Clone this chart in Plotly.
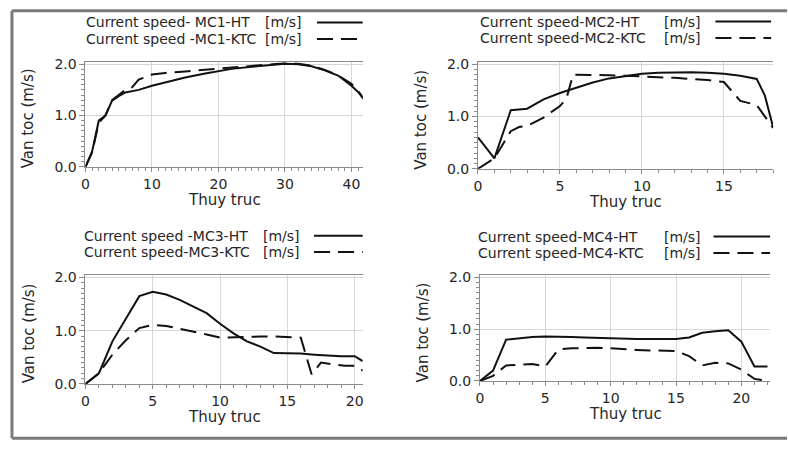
import plotly.graph_objects as go

# ---------------- data ----------------
mc1_x = [0, 1, 2, 3, 4, 5, 6, 7, 8, 10, 12, 15, 18, 20, 22, 25, 28, 30, 32, 34, 36, 38, 40, 41, 42]
mc1_ht = [0, 0.3, 0.9, 1.0, 1.29, 1.38, 1.45, 1.48, 1.5, 1.58, 1.65, 1.74, 1.82, 1.87, 1.91, 1.95, 1.99, 2.01, 2.0, 1.96, 1.88, 1.78, 1.58, 1.46, 1.3]
mc1_ktc = [0, 0.28, 0.86, 1.0, 1.3, 1.4, 1.5, 1.55, 1.7, 1.8, 1.83, 1.86, 1.89, 1.91, 1.93, 1.96, 1.99, 2.02, 2.01, 1.97, 1.89, 1.78, 1.62, 1.48, 1.3]

mc2_x = [0, 1, 2, 3, 4, 5, 6, 7, 8, 9, 10, 11, 12, 13, 14, 15, 16, 17, 17.5, 18]
mc2_ht = [0.6, 0.2, 1.12, 1.15, 1.33, 1.45, 1.55, 1.65, 1.73, 1.78, 1.82, 1.84, 1.85, 1.85, 1.84, 1.82, 1.78, 1.72, 1.4, 0.8]
mc2_ktc_x = [0, 1, 2, 2.5, 3, 4, 5, 5.4, 5.8, 7, 8, 9, 10, 11, 12, 13, 14, 15, 16, 17, 18]
mc2_ktc = [0, 0.2, 0.72, 0.8, 0.82, 0.98, 1.2, 1.35, 1.8, 1.8, 1.79, 1.78, 1.77, 1.76, 1.74, 1.72, 1.7, 1.66, 1.3, 1.22, 0.78]

mc3_x = [0, 1, 2, 3, 4, 5, 6, 7, 8, 9, 10, 11, 12, 13, 14, 15, 16, 17, 18, 19, 20, 20.6]
mc3_ht = [0, 0.2, 0.8, 1.22, 1.65, 1.73, 1.68, 1.58, 1.46, 1.33, 1.13, 0.95, 0.8, 0.7, 0.58, 0.58, 0.57, 0.55, 0.53, 0.52, 0.52, 0.43]
mc3_ktc_x = [0, 1, 2, 3, 4, 5, 6, 7, 8, 9, 10, 11, 12, 13, 14, 15, 16, 16.8, 17.5, 18.3, 19.3, 20, 20.6]
mc3_ktc = [0, 0.2, 0.55, 0.82, 1.05, 1.11, 1.09, 1.04, 0.98, 0.93, 0.87, 0.88, 0.89, 0.89, 0.89, 0.88, 0.87, 0.18, 0.4, 0.37, 0.34, 0.34, 0.25]

mc4_x = [0, 1, 2, 3, 4, 5, 6, 7, 8, 9, 10, 11, 12, 13, 14, 15, 16, 17, 18, 19, 20, 21, 22]
mc4_ht = [0, 0.2, 0.8, 0.83, 0.85, 0.86, 0.86, 0.85, 0.84, 0.83, 0.82, 0.81, 0.81, 0.81, 0.81, 0.81, 0.84, 0.93, 0.96, 0.98, 0.76, 0.28, 0.28]
mc4_ktc = [0, 0.1, 0.3, 0.32, 0.33, 0.28, 0.61, 0.63, 0.64, 0.64, 0.63, 0.61, 0.6, 0.59, 0.58, 0.58, 0.48, 0.3, 0.35, 0.34, 0.22, 0.04, 0.0]

legend_names = [
    ("Current speed- MC1-HT", "Current speed -MC1-KTC"),
    ("Current speed-MC2-HT", "Current speed-MC2-KTC"),
    ("Current speed -MC3-HT", "Current speed-MC3-KTC"),
    ("Current speed-MC4-HT", "Current speed-MC4-KTC"),
]
unit_label = "[m/s]"
x_title = "Thuy truc"
y_title = "Van toc (m/s)"

panels = [
    (mc1_x, mc1_ht, mc1_x, mc1_ktc, 41.7, 10),
    (mc2_x, mc2_ht, mc2_ktc_x, mc2_ktc, 18.0, 5),
    (mc3_x, mc3_ht, mc3_ktc_x, mc3_ktc, 20.6, 5),
    (mc4_x, mc4_ht, mc4_x, mc4_ktc, 22.2, 5),
]

# ---------------- layout geometry (pixels) ----------------
W, H = 788, 451
# (left, right, top, bottom) of each plot area
boxes = [(82, 361, 58, 166), (477, 774, 58, 168), (82, 361, 278, 390), (479, 771, 278, 387)]
# legend geometry: text x, unit right x, line x0, line x1, row1 y, row2 y
legs = [(81, 302, 315, 361, 17, 34), (477, 703, 716, 772, 16, 33),
        (79, 300, 312, 361, 237, 254), (475, 703, 714, 771, 238, 255)]

def px(x):
    return x / W

def py(y):
    return 1 - y / H

FONT = "DejaVu Sans"
TXT = "#262626"
AX = "#8a8a8a"
GRID = "#d6d6d6"
DASH = "16px,8px"

fig = go.Figure()
layout = dict(width=W, height=H, margin=dict(l=0, r=0, t=0, b=0),
              paper_bgcolor="white", plot_bgcolor="white", showlegend=False,
              font=dict(family=FONT, size=14, color=TXT))
annotations = []
shapes = []

for i, ((xh, yh, xk, yk, xmax, dtick), (l, r, t, b), lg) in enumerate(zip(panels, boxes, legs)):
    n = "" if i == 0 else str(i + 1)
    xa, ya = "x" + n, "y" + n
    fig.add_trace(go.Scatter(x=xh, y=yh, mode="lines", xaxis=xa, yaxis=ya,
                             line=dict(color="#111", width=2)))
    fig.add_trace(go.Scatter(x=xk, y=yk, mode="lines", xaxis=xa, yaxis=ya,
                             line=dict(color="#111", width=2, dash=DASH)))
    layout["xaxis" + n] = dict(domain=[px(l), px(r)], anchor=ya, range=[0, xmax],
                               dtick=dtick, tick0=0, showgrid=True, gridcolor=GRID, gridwidth=1,
                               showline=True, linecolor=AX, linewidth=1, mirror=True,
                               ticks="outside", ticklen=4, tickcolor=AX, zeroline=False,
                               minor=dict(dtick=1, ticks="outside", ticklen=3, tickcolor=AX, showgrid=False),
                               tickfont=dict(family=FONT, size=14, color=TXT))
    layout["yaxis" + n] = dict(domain=[py(b), py(t)], anchor=xa, range=[0, 2.04],
                               tickvals=[0, 1, 2], ticktext=["0.0", "1.0", "2.0"],
                               showgrid=True, gridcolor=GRID, gridwidth=1,
                               showline=True, linecolor=AX, linewidth=1,
                               ticks="outside", ticklen=5, tickcolor=AX, zeroline=False,
                               minor=dict(dtick=0.1, ticks="outside", ticklen=3, tickcolor=AX, showgrid=False),
                               tickfont=dict(family=FONT, size=14, color=TXT))
    # axis titles
    annotations.append(dict(x=px((l + r) / 2), y=py(b + 34), xref="paper", yref="paper",
                            text=x_title, showarrow=False, xanchor="center", yanchor="middle",
                            font=dict(family=FONT, size=15, color=TXT)))
    annotations.append(dict(x=px(l - 57), y=py((t + b) / 2 + 4), xref="paper", yref="paper",
                            text=y_title, showarrow=False, textangle=-90, xanchor="center", yanchor="middle",
                            font=dict(family=FONT, size=15, color=TXT)))
    # legend
    tx, ux, lx0, lx1, r1, r2 = lg
    for name, yy, dash in [(legend_names[i][0], r1, "solid"), (legend_names[i][1], r2, DASH)]:
        annotations.append(dict(x=px(tx), y=py(yy), xref="paper", yref="paper", text=name,
                                showarrow=False, xanchor="left", yanchor="middle",
                                font=dict(family=FONT, size=14, color=TXT)))
        annotations.append(dict(x=px(ux), y=py(yy), xref="paper", yref="paper", text=unit_label,
                                showarrow=False, xanchor="right", yanchor="middle",
                                font=dict(family=FONT, size=14, color=TXT)))
        shapes.append(dict(type="line", xref="paper", yref="paper", x0=px(lx0), x1=px(lx1),
                           y0=py(yy), y1=py(yy), line=dict(color="#111", width=2, dash=dash)))

# outer frame
frame = dict(color="#7a7a7a", width=3)
shapes.append(dict(type="line", xref="paper", yref="paper", x0=px(8), x1=1, y0=py(5), y1=py(5), line=frame))
shapes.append(dict(type="line", xref="paper", yref="paper", x0=px(8), x1=px(8), y0=py(5), y1=py(446), line=frame))
shapes.append(dict(type="line", xref="paper", yref="paper", x0=px(8), x1=1, y0=py(446), y1=py(446), line=frame))

layout["annotations"] = annotations
layout["shapes"] = shapes
fig.update_layout(**layout)
fig.write_html("out.html")
